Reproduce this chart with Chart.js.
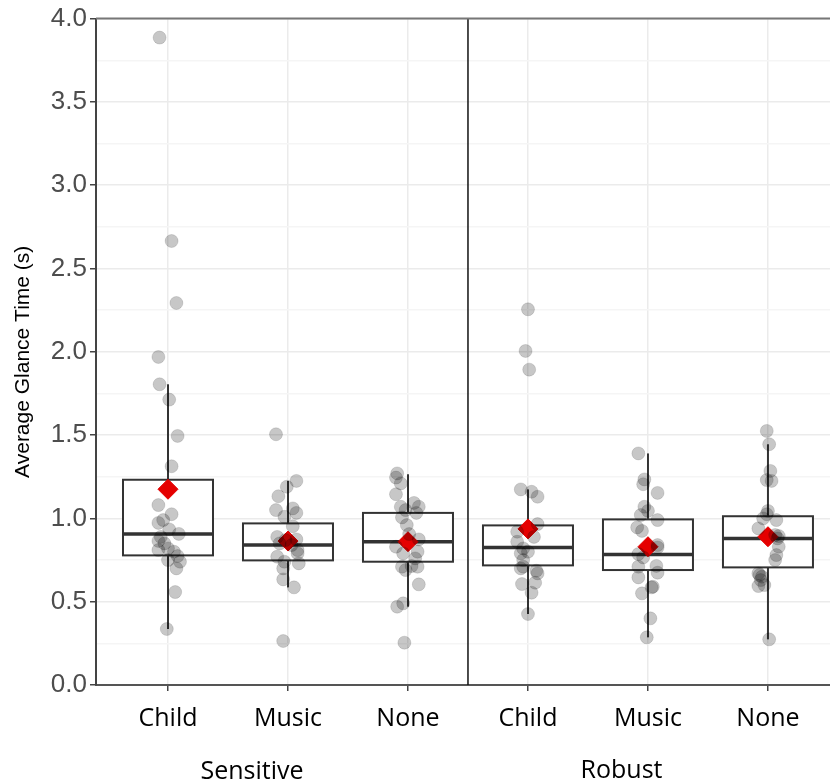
<!DOCTYPE html>
<html>
<head>
<meta charset="utf-8">
<script src="https://cdn.jsdelivr.net/npm/chart.js@4.4.1/dist/chart.umd.min.js"></script>
<style>
  html, body { margin: 0; padding: 0; background: #fff; }
  #wrap { width: 830px; height: 784px; }
</style>
</head>
<body>
<div id="wrap"><canvas id="chart"></canvas></div>
<script>
// --- Data ---
const groups = ['Sensitive', 'Robust'];
const categories = ['Child', 'Music', 'None', 'Child', 'Music', 'None'];
const yTitle = 'Average Glance Time (s)';

const q1 = [0.778, 0.748, 0.740, 0.718, 0.690, 0.706];
const medians = [0.907, 0.840, 0.860, 0.826, 0.784, 0.880];
const q3 = [1.232, 0.970, 1.033, 0.958, 0.994, 1.013];
const whiskerLow = [0.336, 0.586, 0.470, 0.426, 0.286, 0.274];
const whiskerHigh = [1.805, 1.225, 1.265, 1.174, 1.390, 1.445];
const means = [1.175, 0.864, 0.860, 0.937, 0.830, 0.890];

// individual observations per category, with horizontal jitter (category units)
const sensChild = [3.886, 2.665, 2.293, 1.969, 1.805, 1.713, 1.495, 1.313, 1.08, 1.025, 0.973, 0.99, 0.934, 0.907, 0.865, 0.889, 0.81, 0.82, 0.75, 0.774, 0.70, 0.74, 0.558, 0.336, 0.85, 0.80];
const sensChildJit = [-0.07, 0.03, 0.07, -0.08, -0.07, 0.01, 0.08, 0.03, -0.08, 0.03, -0.08, -0.04, 0.01, 0.09, -0.08, -0.06, -0.08, 0, 0, 0.08, 0.07, 0.1, 0.06, -0.01, -0.03, 0.05];
const sensMusic = [1.505, 1.225, 1.19, 1.133, 1.05, 1.06, 1.033, 1.01, 0.953, 0.889, 0.87, 0.874, 0.81, 0.79, 0.73, 0.77, 0.70, 0.74, 0.634, 0.586, 0.264, 0.85, 0.84];
const sensMusicJit = [-0.1, 0.07, -0.01, -0.08, -0.1, 0.04, 0.07, -0.03, 0.04, -0.09, -0.02, 0.07, 0.08, 0.08, 0.09, -0.09, -0.04, -0.03, -0.04, 0.05, -0.04, -0.07, 0.03];
const sensNone = [1.27, 1.245, 1.21, 1.145, 1.07, 1.093, 1.07, 1.05, 1.033, 1.006, 0.96, 0.906, 0.874, 0.83, 0.79, 0.80, 0.76, 0.71, 0.71, 0.69, 0.714, 0.604, 0.49, 0.47, 0.254];
const sensNoneJit = [-0.09, -0.1, -0.06, -0.1, -0.06, 0.05, 0.09, -0.02, 0.07, -0.05, -0.01, 0.01, 0.09, -0.1, -0.04, 0.08, 0.06, 0.08, -0.05, -0.02, 0.03, 0.09, -0.04, -0.09, -0.03];
const robChild = [2.255, 2.005, 1.893, 1.174, 1.16, 1.13, 0.966, 0.889, 0.92, 0.86, 0.82, 0.79, 0.75, 0.71, 0.70, 0.686, 0.67, 0.606, 0.614, 0.554, 0.426, 0.80];
const robChildJit = [0, -0.02, 0.01, -0.06, 0.03, 0.08, 0.08, 0.05, -0.09, -0.09, -0.04, -0.06, -0.04, -0.04, -0.06, 0.07, 0.08, -0.05, 0.06, 0.03, 0, 0];
const robMusic = [1.39, 1.234, 1.205, 1.153, 1.07, 1.045, 1.02, 0.99, 0.946, 0.925, 0.826, 0.786, 0.766, 0.715, 0.71, 0.674, 0.646, 0.59, 0.586, 0.55, 0.40, 0.286, 0.84];
const robMusicJit = [-0.08, -0.03, -0.04, 0.08, -0.03, 0, -0.06, 0.08, -0.09, -0.05, 0.08, -0.08, -0.04, 0.07, -0.08, 0.08, -0.08, 0.04, 0.03, -0.05, 0.02, -0.01, 0.08];
const robNone = [1.525, 1.445, 1.285, 1.23, 1.225, 1.045, 1.025, 0.99, 0.94, 0.894, 0.88, 0.83, 0.78, 0.75, 0.67, 0.65, 0.594, 0.60, 0.274, 1.0, 0.9, 0.66, 0.63];
const robNoneJit = [-0.01, 0.01, 0.02, -0.01, 0.03, 0, -0.01, 0.07, -0.08, 0.09, 0.08, 0.09, 0.07, 0.06, -0.08, -0.05, -0.08, -0.03, 0.01, -0.04, 0.06, -0.07, -0.06];

const observations = [sensChild, sensMusic, sensNone, robChild, robMusic, robNone];
const jitters = [sensChildJit, sensMusicJit, sensNoneJit, robChildJit, robMusicJit, robNoneJit];

// --- Styling ---
const BOX_HALF = 0.375;       // half box width, in category units
const INK = '#333333';
const TICK_FONT = "'Open Sans', sans-serif";
const NUM_FONT = "'Liberation Sans', Arial, sans-serif";

const pointData = [];
observations.forEach((vals, i) => {
    vals.forEach((v, j) => pointData.push({ x: i + 1 + jitters[i][j], y: v }));
});
const meanData = means.map((m, i) => ({ x: i + 1, y: m }));

function isMajor(v) { return Math.round(v * 100) % 50 === 0; }

// Boxes and whiskers go under the points; separator, frame and labels on top.
const boxPlugin = {
    id: 'boxes',
    beforeDatasetsDraw(chart) {
        const { ctx, scales: { x, y } } = chart;
        ctx.save();
        ctx.strokeStyle = INK;
        categories.forEach((c, i) => {
            const cx = x.getPixelForValue(i + 1);
            const l = x.getPixelForValue(i + 1 - BOX_HALF);
            const r = x.getPixelForValue(i + 1 + BOX_HALF);
            const top = y.getPixelForValue(q3[i]);
            const bot = y.getPixelForValue(q1[i]);
            ctx.lineWidth = 2;
            ctx.beginPath();
            ctx.moveTo(cx, y.getPixelForValue(whiskerHigh[i]));
            ctx.lineTo(cx, y.getPixelForValue(whiskerLow[i]));
            ctx.stroke();
            ctx.fillStyle = '#fff';
            ctx.fillRect(l, top, r - l, bot - top);
            ctx.strokeRect(l, top, r - l, bot - top);
            const my = y.getPixelForValue(medians[i]);
            ctx.lineWidth = 3.5;
            ctx.beginPath();
            ctx.moveTo(l, my);
            ctx.lineTo(r, my);
            ctx.stroke();
        });
        ctx.restore();
    },
    afterDraw(chart) {
        const { ctx, chartArea, scales: { x } } = chart;
        ctx.save();
        // panel separator
        const sx = x.getPixelForValue(3.5);
        ctx.strokeStyle = '#111';
        ctx.lineWidth = 1.5;
        ctx.beginPath();
        ctx.moveTo(sx, chartArea.top);
        ctx.lineTo(sx, chartArea.bottom);
        ctx.stroke();
        // top frame line
        ctx.strokeStyle = '#777';
        ctx.lineWidth = 2;
        ctx.beginPath();
        ctx.moveTo(chartArea.left, chartArea.top);
        ctx.lineTo(chartArea.right, chartArea.top);
        ctx.stroke();
        // group labels under the category ticks
        ctx.fillStyle = '#000';
        ctx.font = `25px ${TICK_FONT}`;
        ctx.textAlign = 'center';
        ctx.textBaseline = 'alphabetic';
        ctx.fillText(groups[0], x.getPixelForValue(1.7), 779);
        ctx.fillText(groups[1], x.getPixelForValue(4.78), 778);
        // y axis title (sits a little below the plot's middle in the original)
        ctx.font = `21px ${NUM_FONT}`;
        ctx.textBaseline = 'middle';
        ctx.translate(23, (chartArea.top + chartArea.bottom) / 2 + 10);
        ctx.rotate(-Math.PI / 2);
        ctx.fillText(yTitle, 0, 0);
        ctx.restore();
    },
};

new Chart(document.getElementById('chart'), {
    type: 'scatter',
    data: {
        datasets: [
            {
                data: pointData,
                pointRadius: 6.5,
                pointHoverRadius: 6.5,
                backgroundColor: 'rgba(0,0,0,0.22)',
                borderColor: 'rgba(0,0,0,0.12)',
                borderWidth: 1,
            },
            {
                data: meanData,
                pointStyle: 'rectRot',
                pointRadius: 10,
                pointHoverRadius: 10,
                backgroundColor: '#e50000',
                borderColor: '#e50000',
                borderWidth: 1,
            },
        ],
    },
    options: {
        responsive: true,
        maintainAspectRatio: false,
        animation: false,
        layout: { autoPadding: false, padding: { top: 17, right: 0, left: 0, bottom: 0 } },
        plugins: { legend: { display: false }, tooltip: { enabled: false } },
        scales: {
            x: {
                type: 'linear',
                min: 0.4,
                max: 6.517,
                afterBuildTicks: (s) => { s.ticks = categories.map((c, i) => ({ value: i + 1 })); },
                afterFit: (s) => { s.height = 99; s.paddingLeft = 0; s.paddingRight = 0; },
                ticks: {
                    autoSkip: false,
                    color: '#000',
                    font: { family: TICK_FONT, size: 25 },
                    padding: 13,
                    callback: (v, i) => categories[i],
                },
                grid: { color: '#ebebeb', lineWidth: 1.5, tickColor: '#444', tickLength: 6 },
                border: { display: true, color: '#555', width: 2 },
            },
            y: {
                min: 0,
                max: 4,
                afterFit: (s) => { s.width = 96; },
                ticks: {
                    stepSize: 0.25,
                    autoSkip: false,
                    color: '#4d4d4d',
                    font: { family: NUM_FONT, size: 26 },
                    padding: 3,
                    callback: (v) => (isMajor(v) ? v.toFixed(1) : ''),
                },
                grid: {
                    color: (c) => (isMajor(c.tick.value) ? '#ebebeb' : '#f5f5f5'),
                    lineWidth: 1.5,
                    tickColor: (c) => (isMajor(c.tick.value) ? '#444' : 'rgba(0,0,0,0)'),
                    tickLength: 6,
                },
                border: { display: true, color: '#444', width: 2 },
            },
        },
    },
    plugins: [boxPlugin],
});
</script>
</body>
</html>
